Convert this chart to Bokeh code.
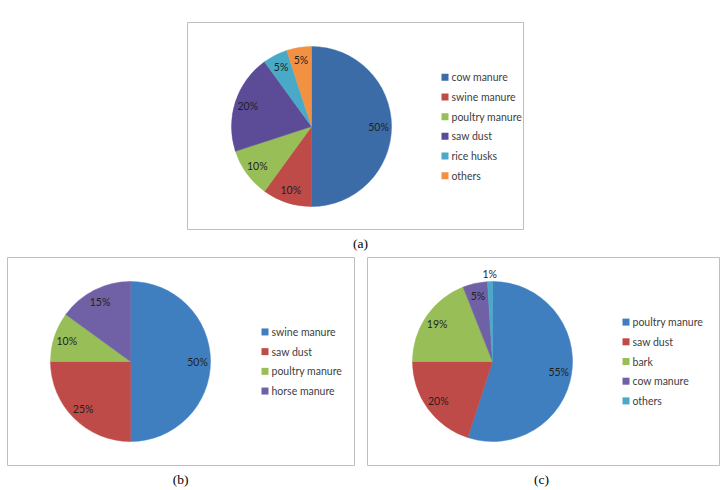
import numpy as np
from bokeh.plotting import figure
from bokeh.models import Range1d
from bokeh.core.properties import value
from bokeh.embed import file_html
from bokeh.resources import INLINE

# Feedstock shares (%) for the three composting mixes
a_labels = ["cow manure", "swine manure", "poultry manure", "saw dust", "rice husks", "others"]
a_values = [50, 10, 10, 20, 5, 5]

b_labels = ["swine manure", "saw dust", "poultry manure", "horse manure"]
b_values = [50, 25, 10, 15]

c_labels = ["poultry manure", "saw dust", "bark", "cow manure", "others"]
c_values = [55, 20, 19, 5, 1]

captions = ["(a)", "(b)", "(c)"]

BLUE_A = "#3B6CA8"
PURPLE_A = "#5C4C98"
BLUE = "#3F7FC0"
RED = "#BF4B48"
GREEN = "#98BE58"
PURPLE = "#7061A6"
AQUA = "#48AAC6"
ORANGE = "#F39143"

W, H = 723, 490
p = figure(width=W, height=H, output_backend="svg", toolbar_location=None,
           x_range=Range1d(0, W), y_range=Range1d(0, H), min_border=0)
p.axis.visible = False
p.grid.visible = False
p.outline_line_color = None
p.background_fill_color = "white"

LABEL_FONT = value("Lato")


def Y(y):
    # page coordinates run downward; the plot's y axis runs upward
    return H - y


def panel(box, cx, cy, labels, values, colors, legend_x, label_r=None):
    x0, y0, x1, y1 = box
    p.quad(left=[x0], right=[x1], bottom=[Y(y1)], top=[Y(y0)],
           fill_color="white", line_color="#BFBFBF", line_width=1)

    vals = np.array(values, dtype=float)
    frac = vals / vals.sum()
    ends = np.cumsum(frac) * 2 * np.pi
    starts = ends - frac * 2 * np.pi
    # clockwise from 12 o'clock -> Bokeh angles (anticlockwise from +x)
    p.wedge(x=[cx] * len(vals), y=[Y(cy)] * len(vals), radius=80, radius_units="screen",
            start_angle=list(np.pi / 2 - ends), end_angle=list(np.pi / 2 - starts),
            direction="anticlock", fill_color=colors, line_color=colors, line_width=0.5)

    mids = (starts + ends) / 2
    rs = label_r if label_r is not None else [67] * len(vals)
    lx = [cx + r * np.sin(m) for r, m in zip(rs, mids)]
    ly = [Y(cy) + r * np.cos(m) for r, m in zip(rs, mids)]
    p.text(x=lx, y=ly, text=[f"{int(v)}%" for v in values], text_font=LABEL_FONT,
           text_font_size="10.5px", text_color="#1f1f1f", text_align="center",
           text_baseline="middle")

    n = len(labels)
    step = 19.7
    rows = [cy + (i - (n - 1) / 2) * step for i in range(n)]
    p.rect(x=[legend_x - 6.5] * n, y=[Y(r) for r in rows], width=7, height=7,
           width_units="screen", height_units="screen", fill_color=colors, line_color=None)
    p.text(x=[legend_x] * n, y=[Y(r) for r in rows], text=labels, text_font=LABEL_FONT,
           text_font_size="10.5px", text_color="#404040", text_align="left",
           text_baseline="middle")


panel((187, 22, 523, 229), 311, 126, a_labels, a_values,
      [BLUE_A, RED, GREEN, PURPLE_A, AQUA, ORANGE], 451)
panel((7, 257, 354, 465), 130, 361, b_labels, b_values,
      [BLUE, RED, GREEN, PURPLE], 271)
panel((367, 257, 719, 465), 492, 361, c_labels, c_values,
      [BLUE, RED, GREEN, PURPLE, AQUA], 632, label_r=[67, 67, 67, 67, 88])

p.text(x=[360, 180, 541], y=[Y(243), Y(479), Y(479)], text=captions,
       text_font=value("Liberation Serif"), text_font_size="13.5px", text_color="#000000",
       text_align="center", text_baseline="middle")

open("out.html", "w").write(file_html(p, INLINE))
